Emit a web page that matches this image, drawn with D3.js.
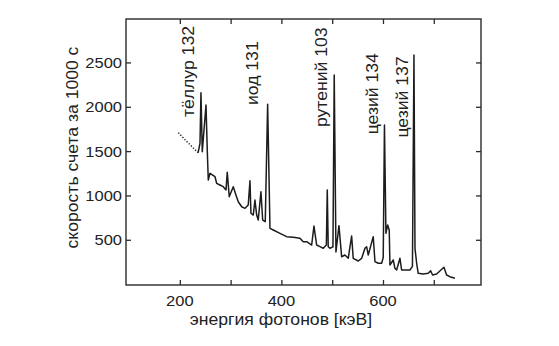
<!DOCTYPE html>
<html>
<head>
<meta charset="utf-8">
<script src="https://cdn.jsdelivr.net/npm/d3@7"></script>
<style>
  html, body { margin: 0; padding: 0; background: #fff; }
  svg { display: block; }
  text { font-family: "Liberation Sans", Arial, sans-serif; fill: #222; }
</style>
</head>
<body>
<svg id="chart" width="559" height="346"></svg>
<script>
// Gamma spectrum: photon energy (keV) vs counts per 1000 s
const energy = [
  197, 205, 215, 225, 236,
  239.7, 241.6, 244.2, 251.5, 254, 256, 259.4, 269.2, 272.5, 279, 285.5, 290.9,
  293.4, 297.3, 305.2, 310.5, 315, 321.8, 328.3, 334.7, 338.1, 340, 344.6, 347.9,
  351.3, 354.4, 359.7, 363.1, 368.2, 372.9, 377.5, 384, 397.2, 410.3, 423.3, 436.5,
  443, 449.7, 459.6, 464.1, 469.4, 475.9, 482.4, 488.5, 490.3, 492.2, 495.6, 501.5, 504,
  507.4, 513.3, 518.6, 525.1, 531.6, 538.3, 541.4, 551.3, 558, 564.5, 567.8, 571,
  580.8, 584.2, 590.6, 597.3, 600.5, 602.9, 605.8, 609.2, 612.3, 613.7, 620.2, 623.5,
  626.9, 633.4, 636.7, 646.6, 653.1, 658, 661, 663, 666.3, 669.4, 679.2, 689.1,
  693.8, 697.7, 705.6, 720, 725.3, 731.8, 741.6
];
const counts = [
  1708, 1660, 1600, 1545, 1482,
  1588, 2159, 1493, 2020, 1512, 1174, 1250, 1211, 1137, 1118, 1099, 1061,
  1261, 986, 1099, 1005, 929, 873, 855, 892, 1166, 799, 779, 949,
  779, 723, 1042, 723, 704, 2028, 629, 610, 573, 535, 528, 517,
  478, 478, 441, 655, 441, 422, 404, 440, 1061, 422, 404, 420, 2358,
  362, 659, 309, 328, 291, 543, 291, 261, 291, 404, 422, 328,
  535, 253, 235, 235, 300, 1794, 573, 667, 610, 216, 272, 178,
  159, 291, 159, 159, 159, 200, 2584, 404, 235, 122, 114, 122,
  151, 103, 114, 190, 103, 84, 66
];
// the low-energy part of the spectrum is drawn dotted
const dottedUntil = 236;

const xTicks = [200, 300, 400, 500, 600, 700];
const xTickLabels = [200, 400, 600];
const yTicks = [500, 1000, 1500, 2000, 2500];

// isotope labels, placed by the energy/count where each label starts
const peakLabels = ["тёллур 132", "иод 131", "рутений 103", "цезий 134", "цезий 137"];
const peakLabelEnergy = [228, 354, 490, 590, 649];
const peakLabelCount = [1885, 2020, 1772, 1690, 1653];

const xTitle = "энергия фотонов [кэВ]";
const yTitle = "скорость счета за 1000 с";

const svg = d3.select("#chart");
const x = d3.scaleLinear().domain([94, 793]).range([126, 481]);
const y = d3.scaleLinear().domain([-10, 2990]).range([285, 19]);
const sx = 1.1; // glyph widening along the baseline
const ink = "#1c1c1c";

// spectrum
const pts = energy.map((e, i) => [e, counts[i]]);
const line = d3.line().x(d => x(d[0])).y(d => y(d[1]));
svg.append("path")
  .datum(pts.filter(d => d[0] <= dottedUntil))
  .attr("d", line)
  .attr("fill", "none")
  .attr("stroke", ink)
  .attr("stroke-width", 1.4)
  .attr("stroke-dasharray", "1.3,1.7");
svg.append("path")
  .datum(pts.filter(d => d[0] >= dottedUntil))
  .attr("d", line)
  .attr("fill", "none")
  .attr("stroke", ink)
  .attr("stroke-width", 1.5)
  .attr("stroke-linejoin", "round");

// frame
const [x0, x1] = x.range();
const [y0, y1] = y.range();
svg.append("rect")
  .attr("x", x0).attr("y", y1)
  .attr("width", x1 - x0).attr("height", y0 - y1)
  .attr("fill", "none").attr("stroke", "#2a2a2a").attr("stroke-width", 1.4);

// inward ticks on all four sides
const tl = 5;
const axisAttrs = g => g.call(s => s.select(".domain").remove())
  .call(s => s.selectAll("line").attr("stroke", "#2a2a2a").attr("stroke-width", 1.3))
  .call(s => s.selectAll("text").remove());
svg.append("g").attr("transform", `translate(0,${y0})`)
  .call(d3.axisTop(x).tickValues(xTicks).tickSize(tl)).call(axisAttrs);
svg.append("g").attr("transform", `translate(0,${y1})`)
  .call(d3.axisBottom(x).tickValues(xTicks).tickSize(tl)).call(axisAttrs);
svg.append("g").attr("transform", `translate(${x0},0)`)
  .call(d3.axisRight(y).tickValues(yTicks).tickSize(tl)).call(axisAttrs);
svg.append("g").attr("transform", `translate(${x1},0)`)
  .call(d3.axisLeft(y).tickValues(yTicks).tickSize(tl)).call(axisAttrs);

// tick labels
svg.selectAll(".xl").data(xTickLabels).join("text")
  .attr("transform", d => `translate(${x(d)},305.5) scale(${sx},1)`)
  .attr("text-anchor", "middle")
  .attr("font-size", 15)
  .text(d => d);
svg.selectAll(".yl").data(yTicks).join("text")
  .attr("transform", d => `translate(122,${y(d)}) scale(${sx},1)`)
  .attr("text-anchor", "end")
  .attr("dy", "0.36em")
  .attr("font-size", 15)
  .text(d => d);

// axis titles
svg.append("text")
  .attr("transform", `translate(281,325) scale(${sx},1)`)
  .attr("text-anchor", "middle")
  .attr("font-size", 16)
  .text(xTitle);
svg.append("text")
  .attr("transform", `translate(78,147.5) rotate(-90) scale(${sx},1)`)
  .attr("text-anchor", "middle")
  .attr("font-size", 16)
  .text(yTitle);

// isotope labels
svg.selectAll(".pk").data(peakLabels).join("text")
  .attr("transform", (d, i) => `translate(${x(peakLabelEnergy[i])},${y(peakLabelCount[i])}) rotate(-90) scale(${sx},1)`)
  .attr("text-anchor", "start")
  .attr("font-size", 16)
  .text(d => d);
</script>
</body>
</html>
